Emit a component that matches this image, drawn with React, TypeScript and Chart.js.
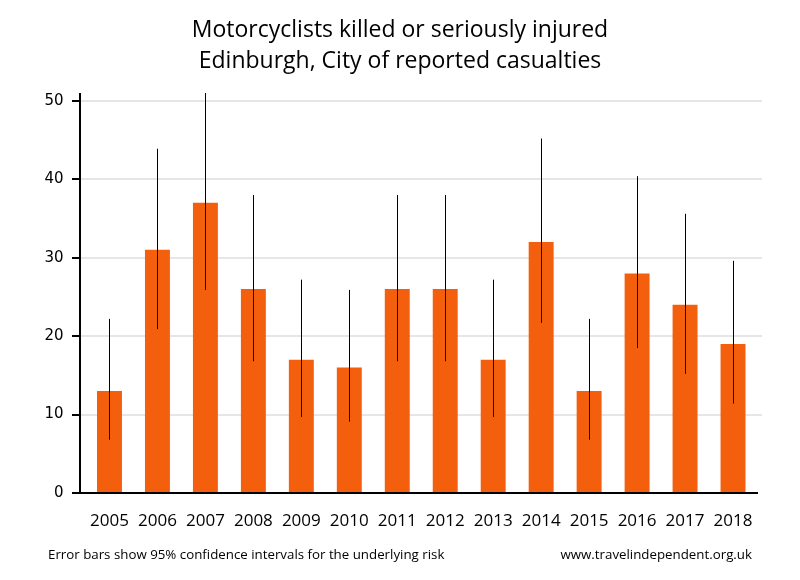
import React, { useEffect, useRef } from "react";
import { Chart, registerables } from "chart.js";

Chart.register(...registerables);

const titleLines = ["Motorcyclists killed or seriously injured", "Edinburgh, City of reported casualties"];
const years = ["2005", "2006", "2007", "2008", "2009", "2010", "2011", "2012", "2013", "2014", "2015", "2016", "2017", "2018"];
const casualties = [13, 31, 37, 26, 17, 16, 26, 26, 17, 32, 13, 28, 24, 19];
const ciLower = [6.8, 20.9, 25.9, 16.8, 9.7, 9.1, 16.8, 16.8, 9.7, 21.7, 6.8, 18.5, 15.2, 11.4];
const ciUpper = [22.2, 43.9, 51.0, 38.0, 27.2, 25.9, 38.0, 38.0, 27.2, 45.2, 22.2, 40.4, 35.6, 29.6];
const yTicks = [0, 10, 20, 30, 40, 50];
const footLeft = "Error bars show 95% confidence intervals for the underlying risk";
const footRight = "www.travelindependent.org.uk";

const BAR = "#f35f0d";

const decor = {
  id: "decor",
  beforeDatasetsDraw(chart: any) {
    const { ctx, scales } = chart;
    const y = scales.y;
    ctx.save();
    ctx.strokeStyle = "#e6e6e6";
    ctx.lineWidth = 2;
    yTicks.forEach((v) => {
      if (v === 0) return;
      const py = Math.round(y.getPixelForValue(v));
      ctx.beginPath();
      ctx.moveTo(80, py);
      ctx.lineTo(762, py);
      ctx.stroke();
    });
    ctx.restore();
  },
  afterDatasetsDraw(chart: any) {
    const { ctx, chartArea, scales } = chart;
    const x = scales.x;
    const y = scales.y;
    ctx.save();
    ctx.beginPath();
    ctx.rect(0, chartArea.top, 800, chartArea.bottom - chartArea.top);
    ctx.clip();
    ctx.strokeStyle = "#000";
    ctx.lineWidth = 1;
    years.forEach((_, i) => {
      const px = Math.round(x.getPixelForValue(i)) + 0.5;
      ctx.beginPath();
      ctx.moveTo(px, y.getPixelForValue(ciLower[i]));
      ctx.lineTo(px, y.getPixelForValue(ciUpper[i]));
      ctx.stroke();
    });
    ctx.restore();

    ctx.save();
    ctx.strokeStyle = "#000";
    ctx.lineWidth = 2;
    const bottom = Math.round(y.getPixelForValue(0));
    ctx.beginPath();
    ctx.moveTo(80, chartArea.top);
    ctx.lineTo(80, bottom + 1);
    ctx.stroke();
    yTicks.forEach((v) => {
      const py = Math.round(y.getPixelForValue(v));
      ctx.beginPath();
      ctx.moveTo(72, py);
      ctx.lineTo(80, py);
      ctx.stroke();
    });
    ctx.beginPath();
    ctx.moveTo(79, bottom);
    ctx.lineTo(758, bottom);
    ctx.stroke();
    ctx.restore();
  },
  afterDraw(chart: any) {
    const { ctx } = chart;
    ctx.save();
    ctx.fillStyle = "#000";
    ctx.textBaseline = "alphabetic";
    ctx.font = "23px 'Open Sans'";
    ctx.textAlign = "center";
    ctx.fillText(titleLines[0], 400, 37);
    ctx.fillText(titleLines[1], 400, 68);
    ctx.font = "13.3px 'Open Sans'";
    ctx.textAlign = "left";
    ctx.fillText(footLeft, 48, 559);
    ctx.textAlign = "right";
    ctx.fillText(footRight, 752, 559);
    ctx.restore();
  },
};

export default function App() {
  const ref = useRef<HTMLCanvasElement | null>(null);
  useEffect(() => {
    if (!ref.current) return;
    const chart = new Chart(ref.current, {
      type: "bar",
      data: {
        labels: years,
        datasets: [
          {
            data: casualties,
            backgroundColor: BAR,
            borderWidth: 0,
            inflateAmount: 0,
            barPercentage: 0.52,
            categoryPercentage: 1,
          },
        ],
      },
      options: {
        animation: false,
        responsive: false,
        maintainAspectRatio: false,
        layout: { padding: { top: 93, right: 43, left: 0, bottom: 0 } },
        plugins: { legend: { display: false }, title: { display: false }, tooltip: { enabled: false } },
        scales: {
          x: {
            grid: { display: false, drawTicks: false },
            border: { display: false },
            ticks: {
              color: "#000",
              font: { family: "'Open Sans'", size: 17 },
              padding: 18,
              maxRotation: 0,
              autoSkip: false,
            },
            afterFit: (s: any) => {
              s.height = 87;
            },
          },
          y: {
            min: 0,
            max: 51,
            grid: { display: false, drawTicks: false },
            border: { display: false },
            ticks: {
              color: "#000",
              font: { family: "'DejaVu Sans'", size: 15 },
              padding: 22,
            },
            afterBuildTicks: (s: any) => {
              s.ticks = yTicks.map((v) => ({ value: v }));
            },
            afterFit: (s: any) => {
              s.width = 85.5;
            },
          },
        },
      },
      plugins: [decor],
    });
    return () => chart.destroy();
  }, []);
  return (
    <div style={{ position: "fixed", left: 0, top: 0, width: 800, height: 580, background: "#fff" }}>
      <canvas ref={ref} width={800} height={580} style={{ width: 800, height: 580, display: "block" }} />
    </div>
  );
}
